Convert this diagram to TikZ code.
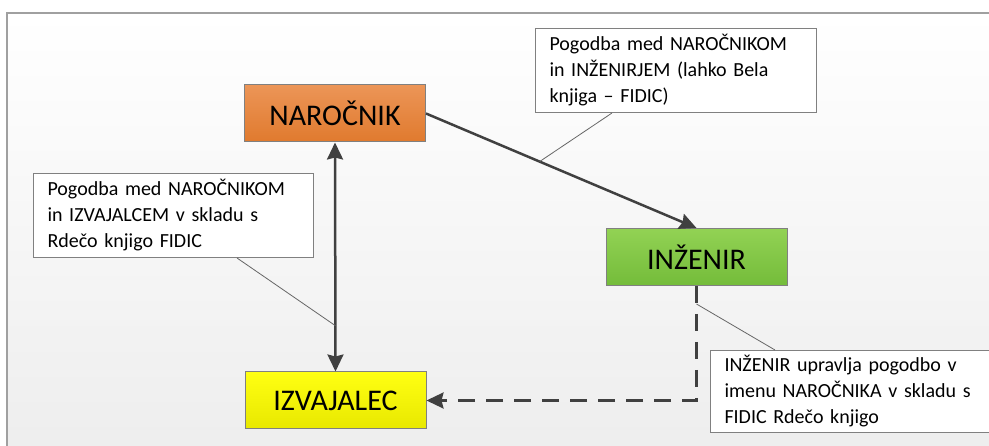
\documentclass[tikz,border=0pt]{standalone}
\usepackage{fontspec}
\setmainfont{Carlito}
\usepackage{xcolor}
\usepackage{tikz}
\usetikzlibrary{arrows.meta}

\definecolor{linegray}{HTML}{404040}
\definecolor{framegray}{HTML}{A0A0A0}
\definecolor{boxgray}{HTML}{808080}
\definecolor{orangetop}{HTML}{EC9557}
\definecolor{orangebot}{HTML}{E07A2E}
\definecolor{greentop}{HTML}{92D254}
\definecolor{greenbot}{HTML}{74BC3A}
\definecolor{yellowtop}{HTML}{FFFF12}
\definecolor{yellowbot}{HTML}{E8E800}

\begin{document}
\begin{tikzpicture}[x=1pt,y=-1pt,>={Stealth[length=17pt,width=16pt,inset=2pt]},
  party/.style={rectangle,draw=boxgray,line width=1pt,minimum width=181pt,minimum height=57pt,
    font=\fontsize{30}{35}\selectfont},
  note/.style={rectangle,draw=boxgray,fill=white,line width=1pt,anchor=north west,align=left,
    inner xsep=14pt,font=\fontsize{20}{26}\selectfont},
  link/.style={draw=linegray,line width=2.5pt},
  leader/.style={draw=black!60,line width=0.8pt}]
\useasboundingbox (0,0) rectangle (989,446);
% background and frame
\shade[top color=white,bottom color=black!7] (7,13) rectangle (1000,460);
\draw[framegray,line width=1.5pt] (1000,13) -- (7,13) -- (7,460);

\node[party,top color=orangetop,bottom color=orangebot] (nar) at (335,113.5) {NAROČNIK};
\node[party,top color=greentop,bottom color=greenbot] (inz) at (696.5,257) {INŽENIR};
\node[party,top color=yellowtop,bottom color=yellowbot] (izv) at (335.5,400.5) {IZVAJALEC};

\node[note,minimum width=281pt,minimum height=84pt,text width=253pt] (n1) at (535,28)
  {Pogodba med NAROČNIKOM\\in INŽENIRJEM (lahko Bela\\knjiga -- FIDIC)};
\node[note,minimum width=280pt,minimum height=84pt,text width=252pt] (n2) at (33,173)
  {Pogodba med NAROČNIKOM\\in IZVAJALCEM v skladu s\\Rdečo knjigo FIDIC};
\node[note,minimum width=300pt,minimum height=82pt,text width=272pt] (n3) at (710,350)
  {INŽENIR upravlja pogodbo v\\imenu NAROČNIKA v skladu s\\FIDIC Rdečo knjigo};

\path[link,->] (nar.east) -- (inz.north) coordinate[pos=0.42] (p1);
\path[link,<->] (nar.south) -- (izv.north) coordinate[pos=0.8] (p2);
\path[link,->,dash pattern=on 17pt off 11pt] (inz.south) -- (inz.south |- izv.east) -- (izv.east);
\coordinate (p3) at (696.5,304);

\draw[leader] (n1.south west) ++(77,0) -- (p1);
\draw[leader] (n2.south west) ++(204,0) -- (p2);
\draw[leader] (n3.north west) ++(65,0) -- (p3);
\end{tikzpicture}
\end{document}
